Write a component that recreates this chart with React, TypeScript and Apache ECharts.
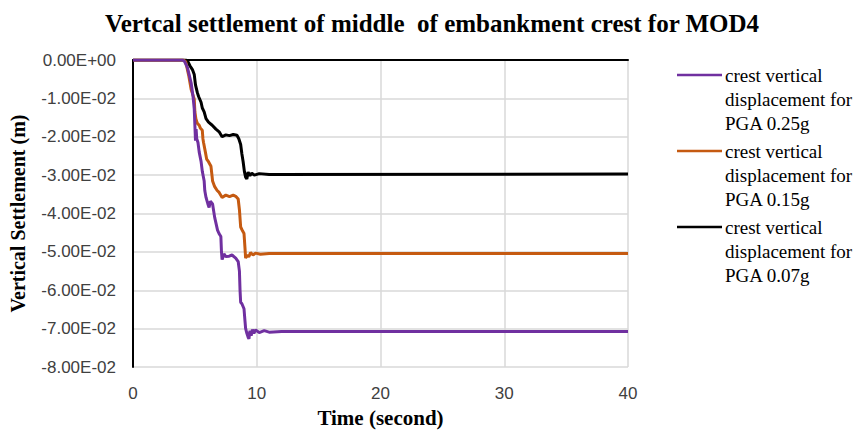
import React, { useEffect, useRef } from "react";
import * as echarts from "echarts";

// Vertical settlement of the embankment crest (m) against time (s)
const seriesNames = [
  "crest vertical\ndisplacement for\nPGA 0.25g",
  "crest vertical\ndisplacement for\nPGA 0.15g",
  "crest vertical\ndisplacement for\nPGA 0.07g",
];
const seriesColors = ["#7030a0", "#c55a11", "#000000"];

const pga025: [number, number][] = [
  [0, 0], [4.0, 0], [4.15, -0.0003], [4.4, -0.002], [4.7, -0.006], [4.85, -0.0095],
  [4.95, -0.0128], [5.0, -0.017], [5.05, -0.021], [5.1, -0.018], [5.15, -0.0205],
  [5.25, -0.0215], [5.35, -0.024], [5.5, -0.0264], [5.6, -0.029], [5.75, -0.0315],
  [5.8, -0.034], [5.9, -0.0358], [6.05, -0.0375], [6.15, -0.0384], [6.25, -0.0368],
  [6.43, -0.0375], [6.6, -0.041], [6.83, -0.0443], [6.95, -0.0452], [7.1, -0.046],
  [7.15, -0.05], [7.2, -0.052], [7.35, -0.0505], [7.5, -0.0512], [7.77, -0.0511],
  [8.0, -0.0508], [8.3, -0.0516], [8.5, -0.0525], [8.6, -0.055], [8.65, -0.06],
  [8.7, -0.0631], [8.8, -0.0635], [8.97, -0.0648], [9.05, -0.068], [9.1, -0.0699],
  [9.2, -0.0712], [9.3, -0.0722], [9.37, -0.0726], [9.45, -0.0705], [9.55, -0.0718],
  [9.65, -0.0702], [9.77, -0.0712], [9.9, -0.0703], [10.2, -0.071], [10.6, -0.0705],
  [11, -0.0709], [12, -0.0707], [40, -0.0707],
];

const pga015: [number, number][] = [
  [0, 0], [4.1, 0], [4.26, -0.0005], [4.5, -0.004], [4.7, -0.0077], [4.95, -0.0102],
  [5.0, -0.0135], [5.08, -0.0153], [5.2, -0.0165], [5.35, -0.017], [5.45, -0.0178],
  [5.6, -0.0183], [5.65, -0.0205], [5.7, -0.0215], [5.85, -0.024], [5.95, -0.0258],
  [6.1, -0.0265], [6.3, -0.0277], [6.38, -0.03], [6.43, -0.0315], [6.6, -0.033],
  [6.8, -0.034], [6.96, -0.0345], [7.2, -0.0358], [7.5, -0.0352], [7.8, -0.0356],
  [8.1, -0.0352], [8.3, -0.0355], [8.5, -0.0362], [8.6, -0.039], [8.7, -0.0435],
  [8.85, -0.0445], [8.97, -0.0452], [9.05, -0.049], [9.1, -0.0516], [9.25, -0.0508],
  [9.35, -0.0513], [9.5, -0.0502], [9.7, -0.0508], [9.9, -0.0503], [10.3, -0.0506],
  [11, -0.0504], [40, -0.0504],
];

const pga007: [number, number][] = [
  [0, 0], [4.3, 0], [4.45, -0.0005], [4.6, -0.0015], [4.8, -0.0025], [4.95, -0.0038],
  [5.05, -0.0065], [5.2, -0.0085], [5.3, -0.0095], [5.5, -0.011], [5.6, -0.0125],
  [5.75, -0.0135], [5.9, -0.0153], [6.1, -0.0162], [6.4, -0.017], [6.7, -0.018],
  [6.96, -0.0187], [7.2, -0.02], [7.5, -0.0195], [7.8, -0.0197], [8.1, -0.0194],
  [8.4, -0.0196], [8.55, -0.0205], [8.7, -0.022], [8.8, -0.0245], [8.9, -0.0265],
  [9.0, -0.029], [9.1, -0.0305], [9.2, -0.031], [9.3, -0.0292], [9.45, -0.0301],
  [9.6, -0.0295], [9.8, -0.03], [10.2, -0.0296], [11, -0.0298], [40, -0.0297],
];

const seriesData = [pga025, pga015, pga007];

const xTicks = { min: 0, max: 40, interval: 10 };
const yTicks = { min: -0.08, max: 0, interval: 0.01 };

// Excel-style scientific label, e.g. -1.00E-02
function sci(v: number): string {
  if (Math.abs(v) < 1e-12) return "0.00E+00";
  const [mant, exp] = v.toExponential(2).split("e");
  const e = parseInt(exp, 10);
  const sign = e < 0 ? "-" : "+";
  const digits = String(Math.abs(e)).padStart(2, "0");
  return `${mant}E${sign}${digits}`;
}

const SERIF = "'Liberation Serif', 'Times New Roman', serif";
const SANS = "'Liberation Sans', Arial, sans-serif";

export default function App() {
  const ref = useRef<HTMLDivElement>(null);

  useEffect(() => {
    if (!ref.current) return;
    const chart = echarts.init(ref.current, undefined, { renderer: "svg" });

    const legendGraphics: any[] = [];
    const legendTop = 75;
    const legendStep = 76;
    seriesNames.forEach((name, i) => {
      const y = legendTop + i * legendStep;
      legendGraphics.push({
        type: "line",
        shape: { x1: 677, y1: y, x2: 722, y2: y },
        style: { stroke: seriesColors[i], lineWidth: 2.5 },
      });
      legendGraphics.push({
        type: "text",
        x: 725,
        y: y - 12,
        style: {
          text: name,
          font: `19px ${SERIF}`,
          lineHeight: 24,
          fill: "#000",
          textAlign: "left",
          textVerticalAlign: "top",
        },
      });
    });

    chart.setOption({
      animation: false,
      backgroundColor: "#ffffff",
      title: {
        text: "Vertcal settlement of middle  of embankment crest for MOD4",
        left: 427,
        textAlign: "center",
        top: 6,
        textStyle: {
          fontFamily: SERIF,
          fontWeight: "bold",
          fontSize: 25,
          color: "#000",
        },
      },
      grid: { left: 130, top: 60, right: 235, bottom: 60 },
      xAxis: [
        {
          type: "value",
          position: "bottom",
          min: xTicks.min,
          max: xTicks.max,
          interval: xTicks.interval,
          name: "Time (second)",
          nameLocation: "middle",
          nameGap: 35,
          nameTextStyle: {
            fontFamily: SERIF,
            fontWeight: "bold",
            fontSize: 21,
            color: "#000",
          },
          axisLine: { show: false },
          axisTick: { show: false },
          axisLabel: {
            margin: 18,
            fontFamily: SANS,
            fontSize: 17,
            color: "#404040",
          },
          splitLine: { show: true, lineStyle: { color: "#d9d9d9", width: 1.5 } },
        },
        {
          type: "value",
          position: "top",
          min: xTicks.min,
          max: xTicks.max,
          axisLine: { show: true, lineStyle: { color: "#000", width: 2 } },
          axisTick: { show: false },
          axisLabel: { show: false },
          splitLine: { show: false },
        },
      ],
      yAxis: {
        type: "value",
        min: yTicks.min,
        max: yTicks.max,
        interval: yTicks.interval,
        name: "Vertical Settlement (m)",
        nameLocation: "middle",
        nameRotate: 90,
        nameGap: 105,
        nameTextStyle: {
          fontFamily: SERIF,
          fontWeight: "bold",
          fontSize: 20,
          color: "#000",
        },
        axisLine: { show: true, lineStyle: { color: "#000", width: 2 } },
        axisTick: { show: false },
        axisLabel: {
          margin: 17,
          fontFamily: SANS,
          fontSize: 17,
          color: "#404040",
          formatter: (v: number) => sci(v),
        },
        splitLine: { show: true, lineStyle: { color: "#d9d9d9", width: 1.5 } },
      },
      series: seriesData.map((d, i) => ({
        type: "line",
        name: seriesNames[i],
        data: d,
        showSymbol: false,
        symbol: "none",
        lineStyle: { color: seriesColors[i], width: 3 },
        itemStyle: { color: seriesColors[i] },
        z: 3 - i,
      })),
      graphic: legendGraphics,
    });

    return () => chart.dispose();
  }, []);

  return (
    <div
      ref={ref}
      style={{ position: "fixed", left: 0, top: 0, width: 863, height: 433 }}
    />
  );
}
